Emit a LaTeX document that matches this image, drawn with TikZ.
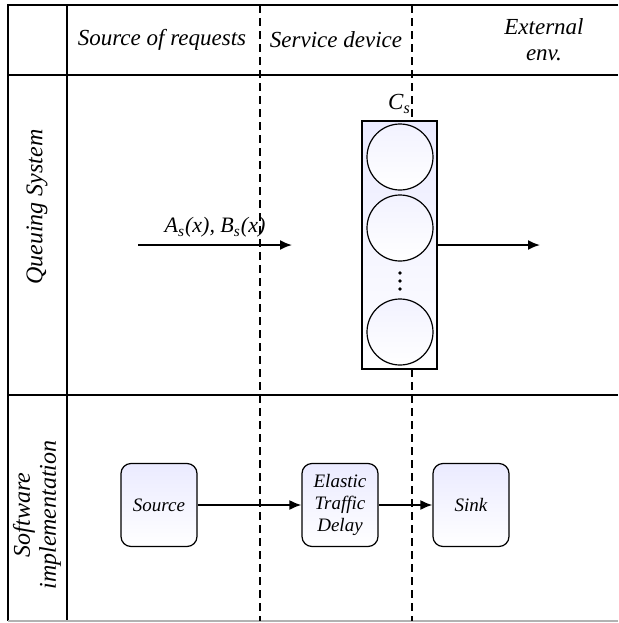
\documentclass[tikz,border=0pt]{standalone}
\usepackage{fontspec}
\setmainfont{Liberation Serif}
\usetikzlibrary{arrows.meta, positioning, calc}

\begin{document}
\begin{tikzpicture}[
    x=0.5pt, y=-0.5pt,
    grid/.style={line width=1pt},
    lane/.style={line width=0.8pt, dash pattern=on 4pt off 2.5pt},
    block/.style={draw, line width=0.6pt, rounded corners=5pt, minimum width=38pt, minimum height=41.5pt, inner sep=1pt, align=center, top color=blue!8!white, bottom color=white, font=\itshape\fontsize{9.5}{11}\selectfont},
    server/.style={circle, draw, line width=0.6pt, minimum size=33pt, inner sep=0pt, top color=blue!5!white, bottom color=white},
    column/.style={draw, line width=0.6pt, minimum width=37.5pt, minimum height=124pt, inner sep=0pt, top color=blue!8!white, bottom color=white},
    dot/.style={circle, fill, minimum size=1.8pt, inner sep=0pt},
    head/.style={font=\itshape\fontsize{11.5}{13}\selectfont, align=center},
    line/.style={draw, line width=0.9pt, -{Latex[length=6pt, width=5pt]}}
]
    \useasboundingbox (0,0) rectangle (618,623);

    % Table
    \draw[grid] (618,5) -- (8,5) -- (8,621);
    \draw[grid] (67,5) -- (67,621);
    \draw[grid] (8,75) -- (618,75);
    \draw[grid] (8,395) -- (618,395);
    \draw[line width=1pt, gray!60] (8,621) -- (618,621);
    \draw[lane] (260,5) -- (260,621);
    \draw[lane] (412,5) -- (412,621);

    % Headers
    \node[head] (hsrc) at (162,40) {Source of requests};
    \node[head] (hdev) at (336,40) {Service device};
    \node[head] (henv) at (544,40) {External\\env.};
    \node[head, font=\itshape\fontsize{12}{13}\selectfont, rotate=90] (rqs) at (37,207) {Queuing System};
    \node[head, font=\itshape\fontsize{12}{13}\selectfont, rotate=90] (rsw) at (37,515) {Software\\implementation};

    % Queuing system
    \node[column] (col) at (399.5,245) {};
    \node[server] (s1) at (400,157) {};
    \node[server] (s2) at (400,228) {};
    \node[server] (s3) at (400,332) {};
    \foreach \y [count=\i] in {273,281,289}
        \node[dot] (d\i) at (400,\y) {};
    \node[head, above=0pt of col] (cs) {C\textsubscript{s}};
    \coordinate (qin) at (138,245);
    \coordinate (qend) at (292,245);
    \coordinate (qout) at (540,245);
    \path[line] (qin) -- node[above, head, font=\itshape\fontsize{11}{12}\selectfont] {A\textsubscript{s}(x), B\textsubscript{s}(x)} (qend);
    \path[line] (col.east) -- (qout);

    % Software implementation
    \node[block] (src) at (159,505) {Source};
    \node[block] (etd) at (340,505) {Elastic\\Traffic\\Delay};
    \node[block] (sink) at (471,505) {Sink};
    \path[line] (src) -- (etd);
    \path[line] (etd) -- (sink);
\end{tikzpicture}
\end{document}
